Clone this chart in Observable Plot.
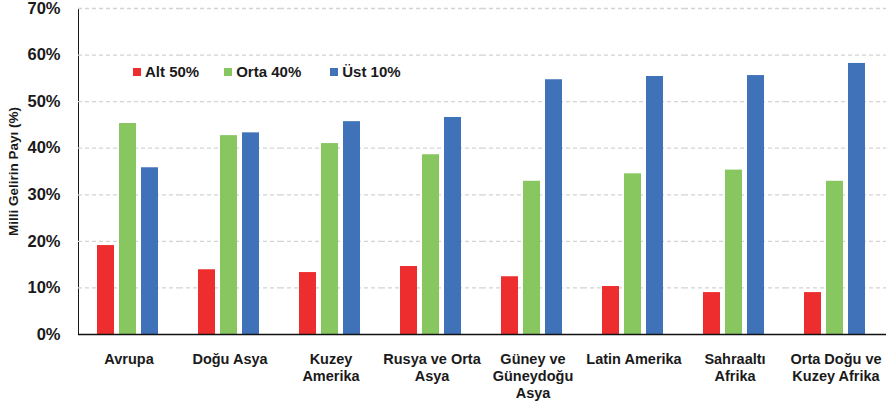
<!DOCTYPE html>
<html>
<head>
<meta charset="utf-8">
<script src="https://cdn.jsdelivr.net/npm/d3@7"></script>
<script src="https://cdn.jsdelivr.net/npm/@observablehq/plot@0.6"></script>
<style>
  body { margin: 0; background: #fff; }
  #wrap { position: relative; width: 886px; height: 404px; font-family: "Liberation Sans", Arial, sans-serif; }
  #legend { position: absolute; left: 133px; top: 63px; display: flex; align-items: center; font-weight: bold; font-size: 15px; color: #1a1a1a; }
  #legend .item { display: flex; align-items: center; }
  #legend .sw { width: 8px; height: 8px; margin-right: 4px; }
  svg g[aria-label="y-axis label"] text { font-size: 13.5px; }
</style>
</head>
<body>
<div id="wrap"><div id="legend"></div></div>
<script>
const regions = ["Avrupa", "Doğu Asya", "Kuzey\nAmerika", "Rusya ve Orta\nAsya", "Güney ve\nGüneydoğu\nAsya", "Latin Amerika", "Sahraaltı\nAfrika", "Orta Doğu ve\nKuzey Afrika"];
const series = ["Alt 50%", "Orta 40%", "Üst 10%"];
const colors = ["#ee2e2e", "#88c660", "#3f72b9"];
const alt50 = [19.1, 13.9, 13.3, 14.6, 12.4, 10.3, 9.0, 9.0];
const orta40 = [45.3, 42.7, 41.0, 38.6, 32.9, 34.5, 35.3, 32.9];
const ust10 = [35.8, 43.3, 45.7, 46.6, 54.7, 55.4, 55.6, 58.2];
const yTicks = [0, 10, 20, 30, 40, 50, 60, 70];
const gridTicks = [10, 20, 30, 40, 50, 60, 70];

const valuesBySeries = [alt50, orta40, ust10];
const data = [];
regions.forEach((r, i) => series.forEach((s, j) => data.push({region: r, series: s, value: valuesBySeries[j][i]})));

const chart = Plot.plot({
  width: 886,
  height: 404,
  marginLeft: 78,
  marginRight: 0,
  marginTop: 8,
  marginBottom: 70,
  style: {fontFamily: "'Liberation Sans', Arial, sans-serif", fontWeight: "bold", fontSize: "16.5px", color: "#1a1a1a", background: "transparent"},
  fx: {domain: regions, padding: 0},
  x: {domain: series, paddingInner: 0.244, paddingOuter: 0.867, align: 0.46, axis: null},
  y: {
    domain: [0, 70], ticks: yTicks, tickFormat: d => d + "%", tickSize: 0, tickPadding: 18, line: true,
    label: "Milli Gelirin Payı (%)", labelAnchor: "center", labelOffset: 70, labelArrow: "none"
  },
  color: {domain: series, range: colors},
  marks: [
    Plot.gridY(gridTicks, {stroke: "#d4d4d4", strokeOpacity: 1, strokeDasharray: "4,3", strokeWidth: 1.3}),
    Plot.barY(data, {fx: "region", x: "series", y: "value", fill: "series"}),
    Plot.ruleY([0], {stroke: "#111", strokeWidth: 1.5}),
    Plot.axisFx({anchor: "bottom", tickSize: 0, tickPadding: 17, label: null, fontSize: 14.5, lineHeight: 1.18})
  ]
});
document.getElementById("wrap").prepend(chart);

const legend = d3.select("#legend");
series.forEach((s, j) => {
  const item = legend.append("div").attr("class", "item").style("margin-right", j === 0 ? "25px" : "29px");
  item.append("div").attr("class", "sw").style("background", colors[j]);
  item.append("span").text(s);
});
</script>
</body>
</html>
